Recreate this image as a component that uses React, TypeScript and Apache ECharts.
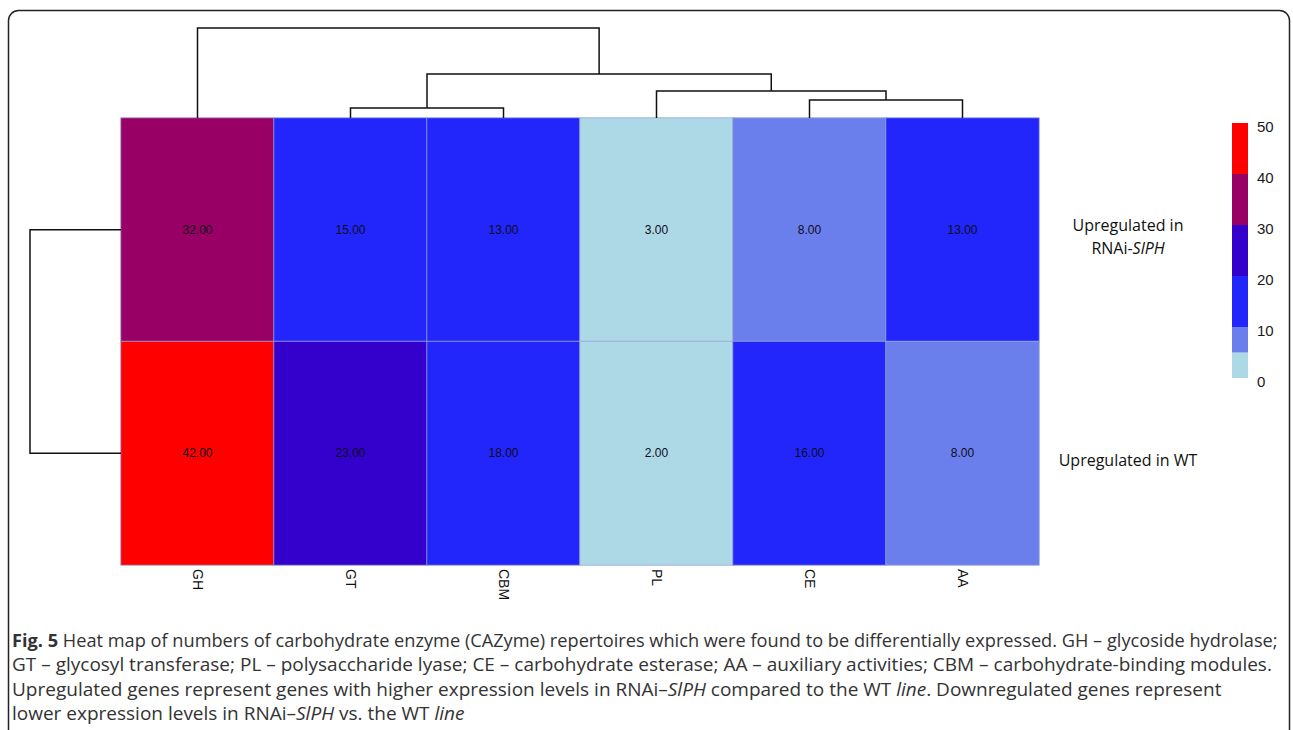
import React, { useEffect, useRef } from "react";
import * as echarts from "echarts";

const categories = ["GH", "GT", "CBM", "PL", "CE", "AA"];
const rowNames = ["Upregulated in RNAi-SlPH", "Upregulated in WT"];
const upInRNAi = [32, 15, 13, 3, 8, 13];
const upInWT = [42, 23, 18, 2, 16, 8];

const colorPieces = [
  { min: 0, max: 5, color: "#add8e6" },
  { min: 5, max: 10, color: "#6a7eec" },
  { min: 10, max: 20, color: "#2226fb" },
  { min: 20, max: 30, color: "#3300cc" },
  { min: 30, max: 40, color: "#990066" },
  { min: 40, max: 50, color: "#ff0000" },
];
const legendTicks = [0, 10, 20, 30, 40, 50];

// linkage: [childA, childB, height]; leaves are 0..n-1, merged nodes n, n+1, ...
const colLinkage = [
  [1, 2, 1.0],
  [4, 5, 1.8],
  [3, 7, 2.7],
  [6, 8, 4.4],
  [0, 9, 9.0],
];
const rowLinkage = [[0, 1, 1.0]];

const captionLines = [
  "{b|Fig. 5} Heat map of numbers of carbohydrate enzyme (CAZyme) repertoires which were found to be differentially expressed. GH – glycoside hydrolase;",
  "GT – glycosyl transferase; PL – polysaccharide lyase; CE – carbohydrate esterase; AA – auxiliary activities; CBM – carbohydrate-binding modules.",
  "Upregulated genes represent genes with higher expression levels in RNAi–{i|SlPH} compared to the WT {i|line}. Downregulated genes represent",
  "lower expression levels in RNAi–{i|SlPH} vs. the WT {i|line}",
];
const captionSizes = [18.2, 19, 19, 19];

function linkSegments(linkage: number[][], nLeaves: number) {
  const pos: number[] = [];
  const hgt: number[] = [];
  for (let i = 0; i < nLeaves; i++) {
    pos.push(i);
    hgt.push(0);
  }
  const segs: number[][] = [];
  linkage.forEach(([a, b, h]) => {
    segs.push([pos[a], pos[b], hgt[a], hgt[b], h]);
    pos.push((pos[a] + pos[b]) / 2);
    hgt.push(h);
  });
  return segs;
}

const GRID = { left: 121, top: 118, width: 918, height: 447 };
const SANS = "Liberation Sans, Arial, sans-serif";
const CAP = "Open Sans, sans-serif";

export default function App() {
  const ref = useRef<HTMLDivElement>(null);
  useEffect(() => {
    if (!ref.current) return;
    const chart = echarts.init(ref.current, null, { renderer: "svg" });
    const heatData: number[][] = [];
    categories.forEach((_, i) => {
      heatData.push([i, 0, upInRNAi[i]]);
      heatData.push([i, 1, upInWT[i]]);
    });
    const colSegs = linkSegments(colLinkage, categories.length);
    const rowSegs = linkSegments(rowLinkage, rowNames.length);
    const colMax = Math.max(...colLinkage.map((l) => l[2]));
    const rowMax = Math.max(...rowLinkage.map((l) => l[2]));

    // legend colour bar
    const barTop = 123;
    const barBottom = 378;
    const barX = 1232;
    const vmax = legendTicks[legendTicks.length - 1];
    const toY = (v: number) => barBottom - ((barBottom - barTop) * v) / vmax;
    const legendGraphics: any[] = [];
    colorPieces.forEach((p) => {
      legendGraphics.push({
        type: "rect",
        shape: { x: barX, y: toY(p.max), width: 16, height: toY(p.min) - toY(p.max) },
        style: { fill: p.color },
      });
    });
    legendTicks.forEach((t) => {
      legendGraphics.push({
        type: "text",
        x: 1257,
        y: toY(t) + 3,
        style: {
          text: String(t),
          fontSize: 15,
          fontFamily: SANS,
          fill: "#1a1a1a",
          textVerticalAlign: "middle",
        },
      });
    });

    const captionGraphics = captionLines.map((line, i) => {
      const fs = captionSizes[i];
      return {
        type: "text",
        x: 12,
        y: 640 + i * 24.3,
        style: {
          text: line,
          fontSize: fs,
          fontFamily: CAP,
          fill: "#333",
          textVerticalAlign: "middle",
          rich: {
            b: { fontWeight: "bold", fontSize: fs, fontFamily: CAP, fill: "#333" },
            i: { fontStyle: "italic", fontSize: fs, fontFamily: CAP, fill: "#333" },
          },
        },
      };
    });

    const dendroStyle = { stroke: "#111", lineWidth: 1.5, fill: null };

    chart.setOption({
      animation: false,
      backgroundColor: "#fff",
      grid: [
        { ...GRID },
        { left: GRID.left, top: 28, width: GRID.width, height: GRID.top - 28 },
        { left: 30, top: GRID.top, width: GRID.left - 30, height: GRID.height },
      ],
      xAxis: [
        {
          type: "category",
          gridIndex: 0,
          data: categories,
          position: "bottom",
          axisLine: { show: false },
          axisTick: { show: false },
          splitLine: { show: false },
          axisLabel: {
            rotate: -90,
            margin: 4,
            fontSize: 14,
            color: "#111",
            fontFamily: SANS,
          },
        },
        { type: "value", gridIndex: 1, min: -0.5, max: categories.length - 0.5, show: false },
        { type: "value", gridIndex: 2, min: 0, max: rowMax, inverse: true, show: false },
      ],
      yAxis: [
        {
          type: "category",
          gridIndex: 0,
          data: rowNames,
          inverse: true,
          position: "right",
          axisLine: { show: false },
          axisTick: { show: false },
          splitLine: { show: false },
          axisLabel: {
            align: "center",
            margin: 89,
            padding: [14, 0, 0, 0],
            formatter: (v: string) =>
              v === rowNames[0] ? "{n|Upregulated in}\n{n|RNAi-}{i|SlPH}" : "{n|" + v + "}",
            rich: {
              n: { fontSize: 16, fontFamily: CAP, color: "#111", lineHeight: 23 },
              i: {
                fontSize: 16,
                fontFamily: CAP,
                fontStyle: "italic",
                color: "#111",
                lineHeight: 23,
              },
            },
          },
        },
        { type: "value", gridIndex: 1, min: 0, max: colMax, show: false },
        { type: "value", gridIndex: 2, min: -0.5, max: rowNames.length - 0.5, inverse: true, show: false },
      ],
      visualMap: {
        type: "piecewise",
        show: false,
        seriesIndex: 0,
        dimension: 2,
        pieces: colorPieces.map((p) => ({ gte: p.min, lt: p.max, color: p.color })),
      },
      series: [
        {
          type: "heatmap",
          xAxisIndex: 0,
          yAxisIndex: 0,
          data: heatData,
          itemStyle: { borderColor: "#9aa6d8", borderWidth: 0.8 },
          label: {
            show: true,
            formatter: (p: any) => Number(p.value[2]).toFixed(2),
            fontSize: 12,
            color: "#0d0d1a",
            fontFamily: SANS,
          },
        },
        {
          type: "custom",
          coordinateSystem: "cartesian2d",
          xAxisIndex: 1,
          yAxisIndex: 1,
          data: colSegs,
          renderItem: (params: any, api: any) => {
            const p1 = api.coord([api.value(0), api.value(2)]);
            const p2 = api.coord([api.value(0), api.value(4)]);
            const p3 = api.coord([api.value(1), api.value(4)]);
            const p4 = api.coord([api.value(1), api.value(3)]);
            return { type: "polyline", shape: { points: [p1, p2, p3, p4] }, style: dendroStyle };
          },
        },
        {
          type: "custom",
          coordinateSystem: "cartesian2d",
          xAxisIndex: 2,
          yAxisIndex: 2,
          data: rowSegs,
          renderItem: (params: any, api: any) => {
            const p1 = api.coord([api.value(2), api.value(0)]);
            const p2 = api.coord([api.value(4), api.value(0)]);
            const p3 = api.coord([api.value(4), api.value(1)]);
            const p4 = api.coord([api.value(3), api.value(1)]);
            return { type: "polyline", shape: { points: [p1, p2, p3, p4] }, style: dendroStyle };
          },
        },
      ],
      graphic: [
        {
          type: "rect",
          shape: { x: 8.5, y: 10.5, width: 1281, height: 780, r: 10 },
          style: { fill: null, stroke: "#222", lineWidth: 1.5 },
        },
        ...legendGraphics,
        ...captionGraphics,
      ],
    });
    return () => chart.dispose();
  }, []);
  return (
    <div
      ref={ref}
      style={{ position: "fixed", left: 0, top: 0, width: 1293, height: 730, background: "#fff" }}
    />
  );
}
